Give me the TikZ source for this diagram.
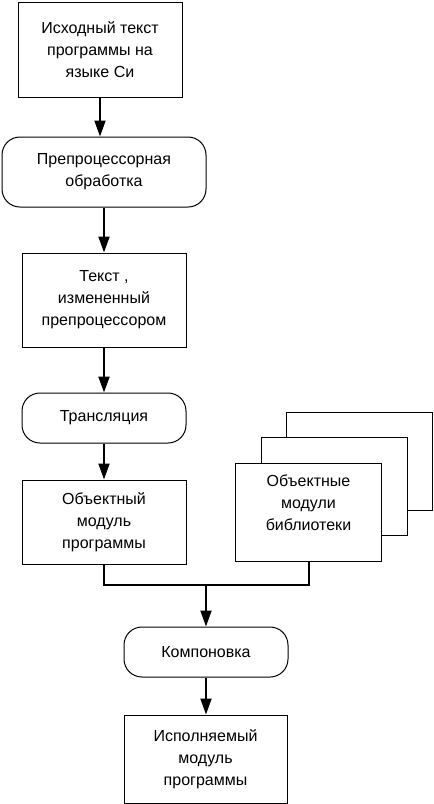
\documentclass[tikz,border=0pt]{standalone}
\usepackage{fontspec}
\setmainfont{Liberation Sans}
\usetikzlibrary{arrows.meta, calc, positioning}

\tikzset{
  block/.style={draw, line width=1pt, fill=white, align=center, inner sep=0pt,
    minimum width=164pt},
  roundblock/.style={block, rounded corners=18pt},
  libbox/.style={block, minimum width=146pt, minimum height=98pt},
  flow/.style={line width=2pt},
  flowarrow/.style={flow, -{Triangle[width=11pt,length=16pt]}}
}

\begin{document}
\begin{tikzpicture}[x=1pt, y=-1pt, font=\fontsize{16}{22}\selectfont]
  \useasboundingbox (0,0) rectangle (434,804);

  % main chain
  \node[block, minimum height=95pt] (source) at (100, 49.5)
    {Исходный текст\\программы на\\языке Си};
  \node[roundblock, minimum width=204pt, minimum height=70pt] (preproc) at (104, 172)
    {Препроцессорная\\обработка};
  \node[block, minimum height=94pt] (ptext) at (104, 300)
    {Текст ,\\измененный\\препроцессором};
  \node[roundblock, minimum height=50pt] (transl) at (104, 418) {Трансляция};
  \node[block, minimum height=84pt] (objmod) at (104, 522)
    {Объектный\\модуль\\программы};

  % library stack, back to front
  \foreach \i in {2, 1} {
    \node[libbox] (lib\i) at (308.5 + 25.5*\i, 512 - 25.5*\i) {};
  }
  \node[libbox] (lib0) at (308.5, 512) {};
  \node[align=center] (libtext) at ([yshift=9pt]lib0.center)
    {Объектные\\модули\\библиотеки};

  \node[roundblock, minimum height=50pt] (link) at (206, 652) {Компоновка};
  \node[block, minimum width=163pt, minimum height=88pt] (exe) at (205.5, 759)
    {Исполняемый\\модуль\\программы};

  \coordinate (join) at (206, 585);

  \draw[flowarrow] (source) -- (preproc.north -| source);
  \draw[flowarrow] (preproc.south -| ptext) -- (ptext);
  \draw[flowarrow] (ptext) -- (transl);
  \draw[flowarrow] (transl) -- (objmod);
  \draw[flow] (objmod.south) |- (join)
    (lib0.south) |- (join);
  \draw[flowarrow] (join) -- (link);
  \draw[flowarrow] (link) -- (exe.north -| link);
\end{tikzpicture}
\end{document}
